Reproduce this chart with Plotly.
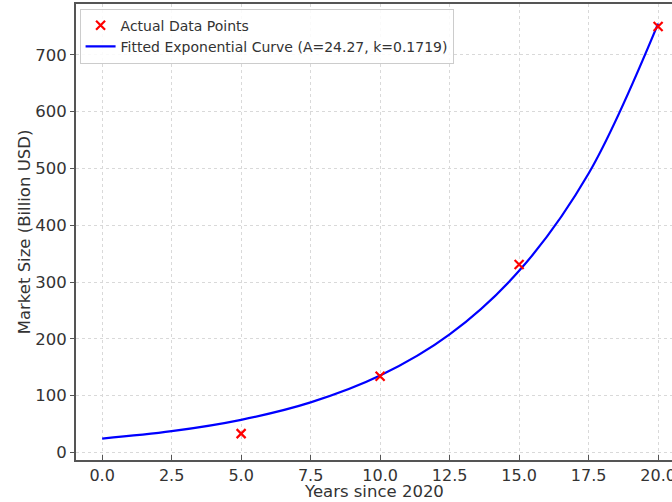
import plotly.graph_objects as go

# Actual data points
years = [5, 10, 15, 20]
market_size = [33, 134, 331, 750]

# Fitted curve values
curve_years = [0, 2.5, 5, 7.5, 10, 12.5, 15, 17.5, 20]
curve_values = [24.3, 37.3, 57.3, 88.0, 135.2, 207.7, 319.7, 491.0, 755.0]

x_ticks = [0, 2.5, 5, 7.5, 10, 12.5, 15, 17.5, 20]
y_ticks = [0, 100, 200, 300, 400, 500, 600, 700]

x_title = "Years since 2020"
y_title = "Market Size (Billion USD)"

font = "DejaVu Sans"
H, T, B = 502, 4, 42

fig = go.Figure()
fig.add_trace(go.Scatter(
    x=curve_years, y=curve_values, mode="lines",
    name="Fitted Exponential Curve (A=24.27, k=0.1719)",
    line=dict(color="blue", width=2.2, shape="spline", smoothing=1.0),
))
fig.add_trace(go.Scatter(
    x=years, y=market_size, mode="markers", name="Actual Data Points",
    marker=dict(symbol="x-thin", size=9, line=dict(color="red", width=2.2), color="red"),
))

fig.update_layout(
    width=672, height=H,
    margin=dict(l=76, r=0, t=T, b=B),
    paper_bgcolor="white", plot_bgcolor="white",
    font=dict(family=font, size=16.5, color="#333"),
    showlegend=True,
    legend=dict(
        x=0.006, y=0.99, xanchor="left", yanchor="top",
        bgcolor="rgba(255,255,255,0.85)", bordercolor="#ccc", borderwidth=1,
        font=dict(family=font, size=14, color="#333"),
        traceorder="reversed", tracegroupgap=0,
    ),
    annotations=[dict(
        text=x_title, xref="paper", yref="paper",
        x=0.5, y=-B / (H - T - B), xanchor="center", yanchor="bottom",
        borderpad=0, showarrow=False,
        font=dict(family=font, size=16.5, color="#333"),
    )],
)
fig.update_xaxes(
    range=[-0.94, 20.5], tickvals=x_ticks, tickformat=".1f",
    automargin=False, ticklabeloverflow="allow",
    tickfont=dict(size=16),
    showgrid=True, gridcolor="#d9d9d9", griddash="dot", gridwidth=1,
    zeroline=False, showline=True, linecolor="#555", linewidth=2, mirror=True,
    ticks="inside", ticklen=5, tickcolor="#555",
)
fig.update_yaxes(
    range=[-13.4, 789.6], tickvals=y_ticks,
    automargin=False, ticklabeloverflow="allow",
    showgrid=True, gridcolor="#d9d9d9", griddash="dot", gridwidth=1,
    zeroline=False, showline=True, linecolor="#555", linewidth=2,
    ticks="outside", ticklen=4, tickcolor="#555",
    title=dict(text=y_title, standoff=0, font=dict(size=16.5)),
)

fig.write_html(
    "out.html",
    config={"displayModeBar": False},
    post_script="document.body.style.margin='0';document.body.style.overflow='hidden';",
)
